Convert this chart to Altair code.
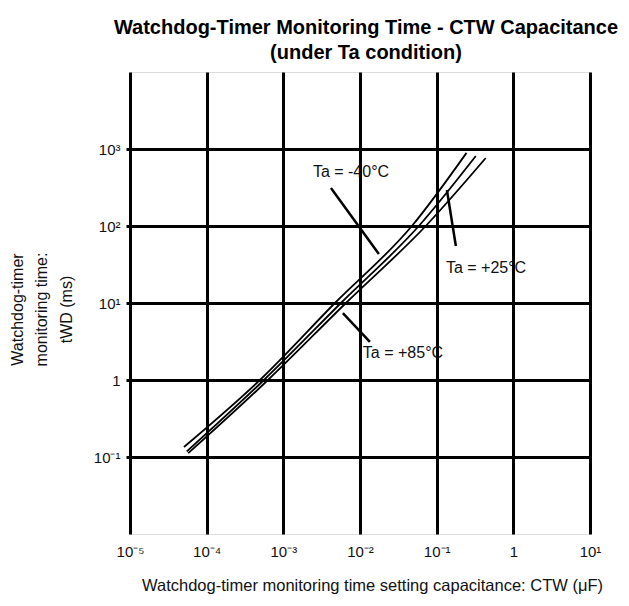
import altair as alt
import pandas as pd

FONT = "Liberation Sans"

series_names = ["Ta = -40°C", "Ta = +25°C", "Ta = +85°C"]
cap_m40 = [5.06e-5, 4.95e-4, 4.71e-3, 4.75e-2, 2.45e-1]
t_m40 = [0.135, 1.0, 10.0, 100.0, 891.0]
cap_p25 = [5.5e-5, 5.58e-4, 5.64e-3, 5.85e-2, 3.24e-1]
t_p25 = [0.118, 1.0, 10.0, 100.0, 811.0]
cap_p85 = [5.75e-5, 6.3e-4, 6.55e-3, 7.2e-2, 4.37e-1]
t_p85 = [0.112, 1.0, 10.0, 100.0, 764.0]

# annotation leader lines (data units)
ptr_x = [0.00418, 0.136, 0.00598]
ptr_y = [312.0, 294.0, 7.41]
ptr_x2 = [0.01762, 0.178, 0.01346]
ptr_y2 = [43.3, 55.0, 3.12]
# annotation label anchors (left edge, middle)
lab_x = [0.00243, 0.132, 0.0109]
lab_y = [501.0, 28.5, 2.24]

x_ticks = [1e-5, 1e-4, 1e-3, 1e-2, 1e-1, 1, 10]
x_tick_labels = ["10⁻⁵", "10⁻⁴", "10⁻³", "10⁻²", "10⁻¹", "1", "10¹"]
y_ticks = [0.1, 1, 10, 100, 1000]
y_tick_labels = ["10⁻¹", "1", "10¹", "10²", "10³"]

rows = []
for name, xs, ys in [(series_names[0], cap_m40, t_m40),
                     (series_names[1], cap_p25, t_p25),
                     (series_names[2], cap_p85, t_p85)]:
    for i, (a, b) in enumerate(zip(xs, ys)):
        rows.append({"series": name, "cap": a, "t": b, "order": i})
curves = pd.DataFrame(rows)

ptrs = pd.DataFrame({"cap": ptr_x, "t": ptr_y, "cap2": ptr_x2, "t2": ptr_y2})
labs = pd.DataFrame({"cap": lab_x, "t": lab_y, "label": series_names})

x_lab_expr = "[" + ",".join("'%s'" % s for s in x_tick_labels) + "][round(log(datum.value)/LN10)+5]"
y_lab_expr = "[" + ",".join("'%s'" % s for s in y_tick_labels) + "][round(log(datum.value)/LN10)+1]"

xscale = alt.Scale(type="log", domain=[1e-5, 10], nice=False)
yscale = alt.Scale(type="log", domain=[0.01, 1e4], nice=False)

xaxis = alt.Axis(
    values=x_ticks, labelExpr=x_lab_expr, ticks=False, domain=False,
    grid=True, gridColor="black", gridWidth=3, gridOpacity=1,
    labelFont=FONT, labelFontSize=15, labelColor="#111111", labelPadding=10,
    labelFlush=False, labelOverlap=False,
    title="Watchdog-timer monitoring time setting capacitance:  CTW (μF)",
    titleFont=FONT, titleFontSize=16.5, titleFontWeight="normal", titleColor="#111111",
    titleX=242, titleY=51, titleBaseline="middle", titleAlign="center",
)
yaxis = alt.Axis(
    values=y_ticks, labelExpr=y_lab_expr, ticks=True, tickSize=4, tickWidth=3,
    tickColor="black", domain=False,
    grid=True, gridColor="black", gridWidth=3, gridOpacity=1,
    labelFont=FONT, labelFontSize=15, labelColor="#111111", labelPadding=6,
    labelFlush=False, labelOverlap=False,
    title=["Watchdog-timer", "monitoring time:", "tWD (ms)"],
    titleFont=FONT, titleFontSize=16, titleFontWeight="normal", titleColor="#111111",
    titleLineHeight=24.5, titleAngle=-90, titleX=-113, titleY=237,
    titleBaseline="middle", titleAlign="center",
)

lines = alt.Chart(curves).mark_line(color="black", strokeWidth=1.8, interpolate="monotone").encode(
    x=alt.X("cap:Q", scale=xscale, axis=xaxis),
    y=alt.Y("t:Q", scale=yscale, axis=yaxis),
    detail="series:N",
    order="order:Q",
)

rules = alt.Chart(ptrs).mark_rule(color="black", strokeWidth=2.5).encode(
    x=alt.X("cap:Q", scale=xscale),
    y=alt.Y("t:Q", scale=yscale),
    x2="cap2:Q",
    y2="t2:Q",
)

texts = alt.Chart(labs).mark_text(
    align="left", baseline="middle", font=FONT, fontSize=16, color="#111111"
).encode(
    x=alt.X("cap:Q", scale=xscale),
    y=alt.Y("t:Q", scale=yscale),
    text="label:N",
)

chart = alt.layer(lines, rules, texts).properties(
    width=460,
    height=462,
    autosize=alt.AutoSizeParams(type="none"),
    padding={"left": 122, "top": 64, "right": 30, "bottom": 60},
    title=alt.TitleParams(
        text=["Watchdog-Timer Monitoring Time - CTW Capacitance", "(under Ta condition)"],
        font=FONT, fontSize=20, fontWeight="bold", color="black",
        lineHeight=25, anchor="middle", offset=9, dx=6,
    ),
).configure_view(stroke="black", strokeWidth=3).configure(background="white")

chart.save("out.html", embed_options={"renderer": "svg", "actions": False})
